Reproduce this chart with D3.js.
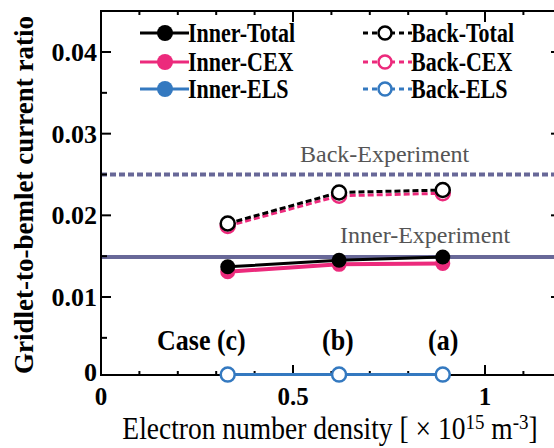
<!DOCTYPE html>
<html><head><meta charset="utf-8">
<script src="https://cdn.jsdelivr.net/npm/d3@7"></script>
<style>
html,body{margin:0;padding:0;background:#fff;}
svg{display:block;}
text{font-family:"Times New Roman","Liberation Serif",Tinos,Times,serif;}
</style></head>
<body>
<script>
// ---- data ----
const densities = [0.33, 0.62, 0.89];
const caseLabels = ["Case (c)", "(b)", "(a)"];
const innerTotal = [0.0137, 0.0145, 0.0149];
const innerCEX   = [0.0131, 0.0140, 0.0141];
const innerELS   = [0.0005, 0.0005, 0.0005];
const backTotal  = [0.0190, 0.0228, 0.0231];
const backCEX    = [0.0187, 0.0224, 0.0227];
const backELS    = [0.0005, 0.0005, 0.0005];
const innerExperiment = 0.0149;
const backExperiment = 0.025;
const xTickLabels = [0, 0.5, 1];
const yTickLabels = [0, 0.01, 0.02, 0.03, 0.04];

const W = 554, H = 448;
const svg = d3.select("body").append("svg").attr("width", W).attr("height", H);

const x = d3.scaleLinear().domain([0, 1.2]).range([101, 561.8]);
const y = d3.scaleLinear().domain([0.00045, 0.04502]).range([375, 11]);
const Y0 = 375, Y1 = 11;

const BLACK = "#000", PINK = "#ec2a7c", BLUE = "#3479c0", SLATE = "#686898", GRAY = "#555";

// experiment lines
svg.append("line").attr("x1", x(0)).attr("x2", x(1.2)).attr("y1", y(innerExperiment)).attr("y2", y(innerExperiment))
  .attr("stroke", SLATE).attr("stroke-width", 4);
svg.append("line").attr("x1", x(0)).attr("x2", x(1.2)).attr("y1", y(backExperiment)).attr("y2", y(backExperiment))
  .attr("stroke", SLATE).attr("stroke-width", 4).attr("stroke-dasharray", "6,3");
svg.append("text").attr("x", 300).attr("y", 162).attr("fill", GRAY).attr("font-size", 24).text("Back-Experiment");
svg.append("text").attr("x", 340).attr("y", 243).attr("fill", GRAY).attr("font-size", 24).text("Inner-Experiment");

// axes frame and ticks
const gAx = svg.append("g");
gAx.append("path").attr("d", `M${x(0)},${Y1}V${Y0}H${x(1.2)}V${Y1}Z`)
  .attr("fill", "none").attr("stroke", BLACK).attr("stroke-width", 2);
const xMinor = d3.range(1, 12).map(i => i / 10).filter(v => Math.abs(v - 0.5) > 1e-6 && Math.abs(v - 1) > 1e-6);
const xMajor = [0.5, 1];
const yMinor = [0.005, 0.015, 0.025, 0.035];
const yMajor = [0.01, 0.02, 0.03, 0.04];
const tk = (x1, y1, x2, y2) => gAx.append("line").attr("x1", x1).attr("y1", y1).attr("x2", x2).attr("y2", y2).attr("stroke", BLACK).attr("stroke-width", 2);
xMinor.forEach(v => { tk(x(v), Y0, x(v), Y0 - 4); tk(x(v), Y1, x(v), Y1 + 4); });
xMajor.forEach(v => { tk(x(v), Y0, x(v), Y0 - 10); tk(x(v), Y1, x(v), Y1 + 11); });
yMinor.forEach(v => { tk(101, y(v), 107, y(v)); tk(561.8, y(v), 556, y(v)); });
yMajor.forEach(v => { tk(101, y(v), 111, y(v)); tk(561.8, y(v), 551, y(v)); });

// tick labels
xTickLabels.forEach(v => {
  svg.append("text").attr("x", x(v)).attr("y", 405).attr("text-anchor", "middle")
    .attr("font-size", 25).attr("font-weight", "bold").text(v === 0.5 ? "0.5" : String(v));
});
yTickLabels.forEach(v => {
  svg.append("text").attr("x", 97).attr("y", v === 0 ? 381 : y(v) + 9).attr("text-anchor", "end")
    .attr("font-size", 26).attr("font-weight", "bold").text(v === 0 ? "0" : v.toFixed(2));
});

// axis titles
svg.append("text").attr("transform", "translate(33,195) rotate(-90)").attr("text-anchor", "middle")
  .attr("font-size", 27).attr("font-weight", "bold").text("Gridlet-to-bemlet current ratio");
const xt = svg.append("text").attr("transform", "translate(330,439) scale(1,1.15)").attr("text-anchor", "middle").attr("font-size", 27.5);
xt.append("tspan").text("Electron number density [ × 10");
xt.append("tspan").attr("dy", -9).attr("font-size", 19).text("15");
xt.append("tspan").attr("dy", 9).text(" m");
xt.append("tspan").attr("dy", -9).attr("font-size", 19).text("-3");
xt.append("tspan").attr("dy", 9).text("]");

// case labels
densities.forEach((d, i) => {
  const xs = [157, 322, 428][i];
  svg.append("text").attr("transform", `translate(${xs},350) scale(1,1.12)`)
    .attr("font-size", 26).attr("font-weight", "bold").text(caseLabels[i]);
});

// series
const series = [
  {name: "Inner-ELS", vals: innerELS, color: BLUE, dash: null, filled: true, w: 3},
  {name: "Back-ELS", vals: backELS, color: BLUE, dash: "6,3", filled: false, w: 3},
  {name: "Inner-CEX", vals: innerCEX, color: PINK, dash: null, filled: true, w: 4},
  {name: "Inner-Total", vals: innerTotal, color: BLACK, dash: null, filled: true, w: 3},
  {name: "Back-CEX", vals: backCEX, color: PINK, dash: "6,3", filled: false, w: 3},
  {name: "Back-Total", vals: backTotal, color: BLACK, dash: "6,3", filled: false, w: 3},
];
const line = d3.line().x(d => x(d[0])).y(d => y(d[1]));
series.forEach(s => {
  const pts = densities.map((d, i) => [d, s.vals[i]]);
  svg.append("path").attr("d", line(pts)).attr("fill", "none").attr("stroke", s.color)
    .attr("stroke-width", s.w).attr("stroke-dasharray", s.dash);
  svg.selectAll(null).data(pts).enter().append("circle")
    .attr("cx", d => x(d[0])).attr("cy", d => y(d[1])).attr("r", s.filled ? 7.5 : 7)
    .attr("fill", s.filled ? s.color : "#fff").attr("stroke", s.color).attr("stroke-width", s.filled ? 0 : 2.5);
});

// legend
const legend = [
  {name: "Inner-Total", color: BLACK, dash: null, filled: true, col: 0, row: 0},
  {name: "Inner-CEX", color: PINK, dash: null, filled: true, col: 0, row: 1},
  {name: "Inner-ELS", color: BLUE, dash: null, filled: true, col: 0, row: 2},
  {name: "Back-Total", color: BLACK, dash: "5,4", filled: false, col: 1, row: 0},
  {name: "Back-CEX", color: PINK, dash: "5,4", filled: false, col: 1, row: 1},
  {name: "Back-ELS", color: BLUE, dash: "5,4", filled: false, col: 1, row: 2},
];
const rowY = [33, 62, 89];
const colX = [140, 363];
legend.forEach(l => {
  const x0 = colX[l.col], yy = rowY[l.row];
  svg.append("line").attr("x1", x0).attr("x2", x0 + 49).attr("y1", yy).attr("y2", yy)
    .attr("stroke", l.color).attr("stroke-width", 3).attr("stroke-dasharray", l.dash);
  svg.append("circle").attr("cx", x0 + (l.col ? 22 : 25)).attr("cy", yy).attr("r", l.filled ? 8 : 6.5)
    .attr("fill", l.filled ? l.color : "#fff").attr("stroke", l.color).attr("stroke-width", l.filled ? 0 : 2.5);
  svg.append("text").attr("transform", `translate(${x0 + 48},${yy + 9}) scale(1,1.2)`)
    .attr("font-size", 22).attr("font-weight", "bold").text(l.name);
});
</script>
</body></html>
